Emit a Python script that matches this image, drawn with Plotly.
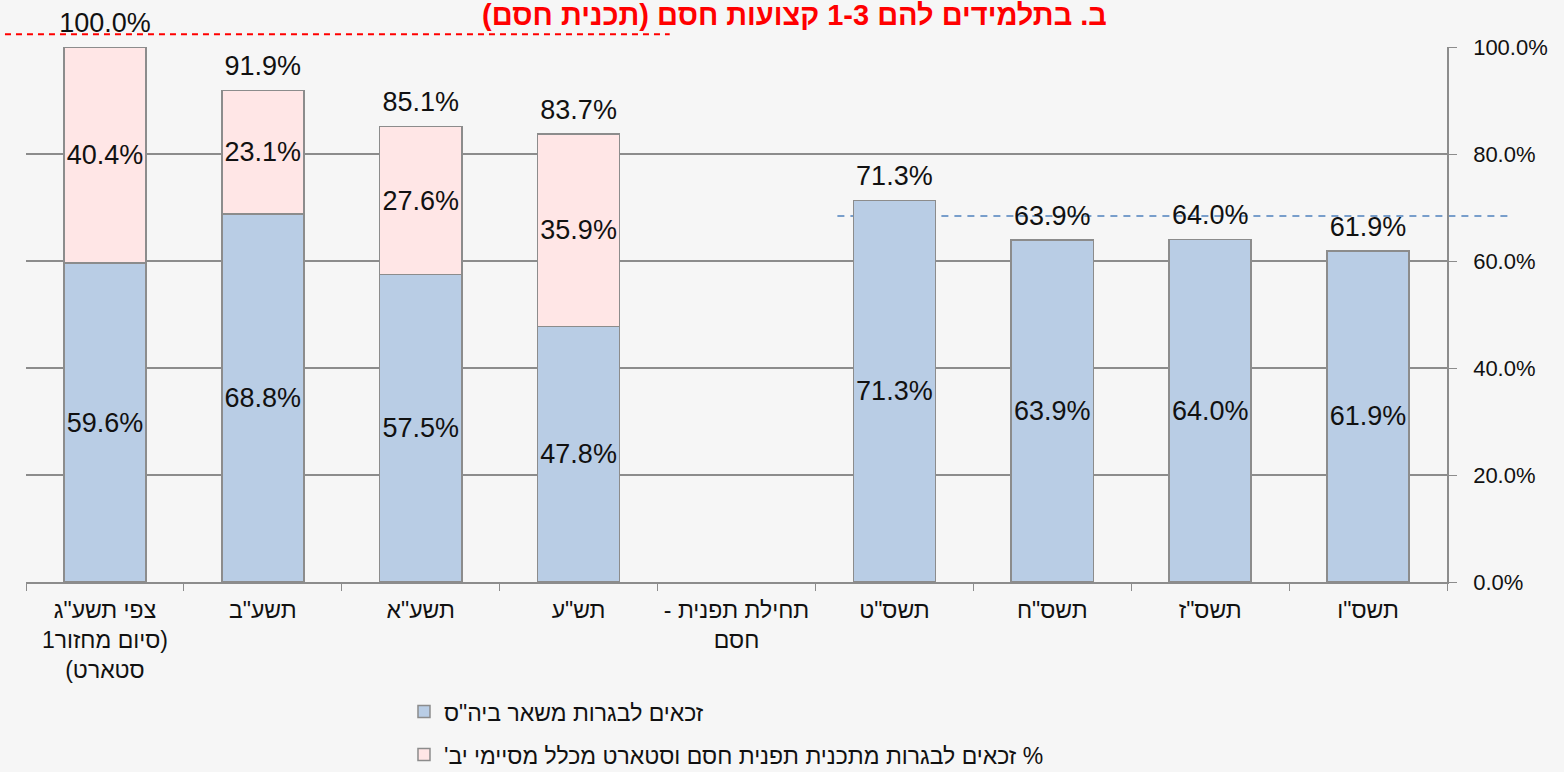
import plotly.graph_objects as go

RLE, PDF = "\u202b", "\u202c"


def rtl(s):
    # עטיפה בכיוון ימין-לשמאל
    return RLE + s + PDF


# הדפדפן מציג את התוויות מימין לשמאל; הסדר כאן נותן את אותו מראה כמו ב-Excel
categories = [
    "צפי תשע\"ג<br>1סיום מחזור)<br>(סטארט",
    "תשע\"ב",
    "תשע\"א",
    "תש\"ע",
    "- תחילת תפנית<br>חסם",
    "תשס\"ט",
    "תשס\"ח",
    "תשס\"ז",
    "תשס\"ו",
]
school_rest = [59.6, 68.8, 57.5, 47.8, None, 71.3, 63.9, 64.0, 61.9]
hesem_start = [40.4, 23.1, 27.6, 35.9, None, None, None, None, None]
totals = [100.0, 91.9, 85.1, 83.7, None, 71.3, 63.9, 64.0, 61.9]

name_rest = "זכאים לבגרות משאר ביה\"ס"
name_hesem = "% זכאים לבגרות מתכנית תפנית חסם וסטארט מכלל מסיימי יב'"
title = "ב. בתלמידים להם 1-3 קצועות חסם (תכנית חסם)"

red_line = 102.4   # קו מקווקו אדום
blue_line = 68.4   # קו מקווקו כחול

font = "Liberation Sans, Arial, DejaVu Sans, sans-serif"
border = dict(color="#8c8c8c", width=1.5)
label_size = 27


def fmt(vals):
    return [f"{v:.1f}%" if v is not None else "" for v in vals]


fig = go.Figure()
fig.add_bar(
    x=categories, y=school_rest, name=rtl(name_rest), legendgroup="a",
    marker=dict(color="#b9cde5", line=border),
    text=fmt(school_rest), textposition="inside", insidetextanchor="middle",
    textangle=0, constraintext="none",
    textfont=dict(size=label_size, color="#111"),
)
fig.add_bar(
    x=categories, y=hesem_start, name=rtl(name_hesem), legendgroup="b",
    marker=dict(color="#ffe6e6", line=border),
    text=fmt(hesem_start), textposition="inside", insidetextanchor="middle",
    textangle=0, constraintext="none",
    textfont=dict(size=label_size, color="#111"),
)
fig.add_scatter(
    x=categories, y=totals, mode="markers+text", showlegend=False,
    marker=dict(size=12, color="rgba(0,0,0,0)"),
    text=fmt(totals), textposition="top center",
    textfont=dict(size=label_size, color="#111"),
    hoverinfo="skip", cliponaxis=False,
)

fig.add_shape(type="line", xref="paper", yref="paper",
              x0=-0.0148, x1=0.453, y0=red_line / 100, y1=red_line / 100,
              line=dict(color="#ff0000", width=2, dash="6px,5px"))
fig.add_shape(type="line", xref="paper", yref="y", layer="below",
              x0=0.571, x1=1.043, y0=blue_line, y1=blue_line,
              line=dict(color="#4f81bd", width=1.5, dash="7px,6px"))

fig.update_layout(
    width=1564, height=772,
    barmode="stack", bargap=0.48,
    uniformtext=dict(minsize=label_size, mode="show"),
    paper_bgcolor="#f6f6f6", plot_bgcolor="#f6f6f6",
    font=dict(family=font, size=20, color="#111"),
    margin=dict(l=26, r=117, t=47, b=190),
    title=dict(text=rtl(title), x=0.508, xanchor="center",
               yref="container", y=0.981, yanchor="middle",
               font=dict(size=29, color="#ff0000", family=font, weight="bold")),
    legend=dict(x=0.266, xanchor="left", yref="container", y=0.106, yanchor="top",
                bgcolor="rgba(0,0,0,0)", tracegroupgap=10,
                font=dict(size=23), itemwidth=30),
    showlegend=True,
)
fig.update_xaxes(
    showgrid=False, showline=True, linecolor="#8c8c8c", linewidth=1.5,
    ticks="outside", tickson="boundaries", ticklen=7, tickcolor="#8c8c8c",
    tickfont=dict(size=23), ticklabelstandoff=7,
    fixedrange=True, automargin=False,
)
fig.update_yaxes(
    side="right", range=[0, 100], dtick=20, tickformat=".1f", ticksuffix="%",
    showgrid=True, gridcolor="#8c8c8c", gridwidth=1.5,
    showline=True, linecolor="#8c8c8c", linewidth=1.5,
    ticks="outside", ticklen=8, tickcolor="#8c8c8c",
    tickfont=dict(size=22), ticklabelstandoff=12,
    zeroline=False, fixedrange=True, automargin=False,
)

# בלי שוליים של הדף, כדי שהגרף יתחיל בפינה
fig.write_html("out.html", config={"displayModeBar": False},
               post_script="document.body.style.margin='0';")
